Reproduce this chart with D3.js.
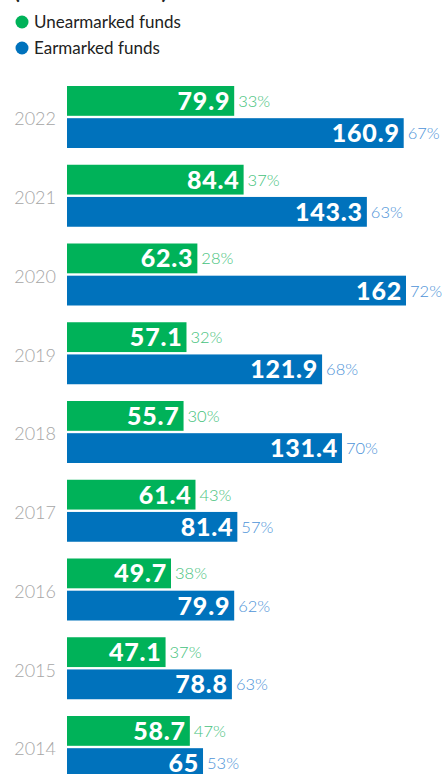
<!DOCTYPE html>
<html>
<head>
<meta charset="utf-8">
<script src="https://cdn.jsdelivr.net/npm/d3@7"></script>
<style>
  html, body { margin: 0; padding: 0; background: #fff; }
  svg { display: block; font-family: Lato, "Open Sans", sans-serif; }
</style>
</head>
<body>
<svg id="chart" width="442" height="774"></svg>
<script>
// Funding by year, in USD millions
const years = ["2022", "2021", "2020", "2019", "2018", "2017", "2016", "2015", "2014"];
const unearmarked = [79.9, 84.4, 62.3, 57.1, 55.7, 61.4, 49.7, 47.1, 58.7];
const earmarked = [160.9, 143.3, 162, 121.9, 131.4, 81.4, 79.9, 78.8, 65];
const unearmarkedShare = ["33%", "37%", "28%", "32%", "30%", "43%", "38%", "37%", "47%"];
const earmarkedShare = ["67%", "63%", "72%", "68%", "70%", "57%", "62%", "63%", "53%"];
const seriesNames = ["Unearmarked funds", "Earmarked funds"];

const colors = { bar: ["#00b259", "#0072bc"], share: ["#45c27c", "#4d93d8"] };

const svg = d3.select("#chart");

// Subtitle (units), mostly above the visible area
svg.append("text")
  .attr("x", 14).attr("y", -1)
  .attr("font-size", 21).attr("font-weight", 700).attr("fill", "#222")
  .text("(in USD millions)");

// Legend
const legend = svg.append("g");
seriesNames.forEach((name, i) => {
  const g = legend.append("g").attr("transform", `translate(0,${22 + i * 26})`);
  g.append("circle").attr("cx", 22).attr("cy", 0).attr("r", 6.5).attr("fill", colors.bar[i]);
  g.append("text").attr("x", 34).attr("y", 0).attr("dy", "0.36em")
    .attr("font-size", 17).attr("fill", "#222").text(name);
});

const rows = years.map((y, i) => ({
  year: y,
  values: [
    { key: 0, v: unearmarked[i], share: unearmarkedShare[i] },
    { key: 1, v: earmarked[i], share: earmarkedShare[i] }
  ]
}));

const y = d3.scaleBand().domain(years).range([86, 778]).paddingInner(0.2127).paddingOuter(0);
const yInner = d3.scaleBand().domain([0, 1]).range([0, y.bandwidth()]).paddingInner(0.074);
const x = d3.scaleLinear().domain([0, 162]).range([67, 406]);

// Year labels
svg.append("g").selectAll("text").data(rows).join("text")
  .attr("x", 56)
  .attr("y", d => y(d.year) + y.bandwidth() / 2 + 2)
  .attr("dy", "0.36em")
  .attr("text-anchor", "end")
  .attr("font-size", 18).attr("font-weight", 300).attr("fill", "#a6a6a6")
  .text(d => d.year);

const groups = svg.append("g").selectAll("g").data(rows).join("g")
  .attr("transform", d => `translate(0,${y(d.year)})`);

const items = groups.selectAll("g").data(d => d.values).join("g")
  .attr("transform", d => `translate(0,${yInner(d.key)})`);

items.append("rect")
  .attr("x", x(0))
  .attr("y", 0)
  .attr("width", d => x(d.v) - x(0))
  .attr("height", yInner.bandwidth())
  .attr("fill", d => colors.bar[d.key]);

// Values inside the bars
items.append("text")
  .attr("x", d => x(d.v) - 4)
  .attr("y", yInner.bandwidth() / 2)
  .attr("dy", "0.36em")
  .attr("text-anchor", "end")
  .attr("font-size", 25).attr("font-weight", 900).attr("fill", "#fff")
  .attr("letter-spacing", 0.8)
  .text(d => d.v);

// Shares next to the bars
items.append("text")
  .attr("x", d => x(d.v) + 4)
  .attr("y", yInner.bandwidth() / 2)
  .attr("dy", "0.36em")
  .attr("font-size", 16.5).attr("font-weight", 300)
  .attr("fill", d => colors.share[d.key])
  .text(d => d.share);
</script>
</body>
</html>
